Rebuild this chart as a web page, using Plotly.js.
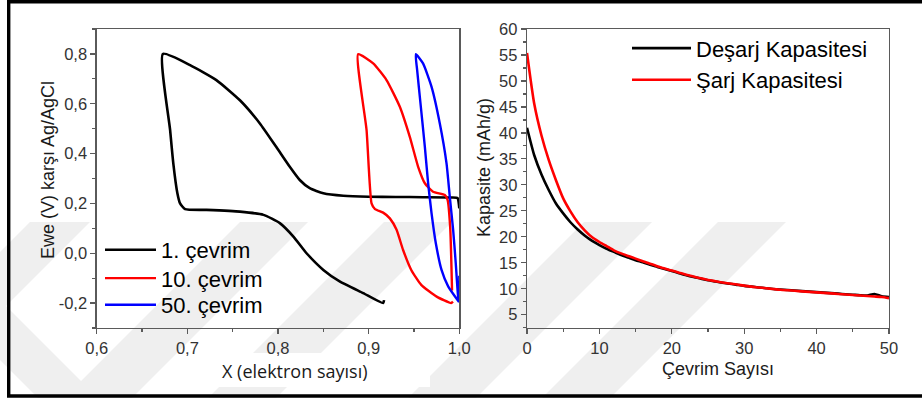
<!DOCTYPE html>
<html>
<head>
<meta charset="utf-8">
<script src="https://cdn.plot.ly/plotly-3.0.1.min.js"></script>
<style>
  html, body { margin: 0; padding: 0; background: #fff; }
  #chart { width: 922px; height: 398px; }
</style>
</head>
<body>
<div id="chart"></div>
<script>
// ---- Left panel: galvanostatic curves, potential vs. electron count ----
const cycleNames = ['1. çevrim', '10. çevrim', '50. çevrim'];

const x1 = [1.000, 0.998, 0.990, 0.960, 0.930, 0.900, 0.872, 0.850, 0.835, 0.824, 0.813, 0.798, 0.780, 0.758, 0.732, 0.703, 0.673,
            0.681, 0.6845, 0.689, 0.692, 0.6975, 0.721, 0.758, 0.784, 0.802, 0.817, 0.8315, 0.850, 0.868, 0.894, 0.916, 0.917];
const y1 = [0.180, 0.222, 0.224, 0.225, 0.226, 0.227, 0.231, 0.241, 0.261, 0.294, 0.347, 0.427, 0.521, 0.614, 0.695, 0.755, 0.800,
            0.494, 0.361, 0.241, 0.200, 0.177, 0.174, 0.167, 0.154, 0.121, 0.067, 0.000, -0.067, -0.113, -0.160, -0.200, -0.188];

const x10 = [0.993, 0.991, 0.975, 0.958, 0.947, 0.938, 0.9308, 0.9234, 0.916, 0.907, 0.9032, 0.8977, 0.8884,
             0.905, 0.9197, 0.9344, 0.9454, 0.9546, 0.962, 0.971, 0.984, 0.987, 0.990, 0.992];
const y10 = [-0.194, -0.200, -0.174, -0.127, -0.067, 0.013, 0.094, 0.140, 0.163, 0.177, 0.200, 0.494, 0.799,
             0.762, 0.695, 0.588, 0.467, 0.347, 0.281, 0.247, 0.234, 0.215, 0.100, -0.150];

const x50 = [0.9995, 0.9877, 0.9804, 0.9741, 0.9694, 0.9656, 0.962, 0.9572, 0.9535, 0.952,
             0.960, 0.9694, 0.9785, 0.9859, 0.9895, 0.9932, 0.9961, 0.9987, 1.000, 1.000];
const y50 = [-0.195, -0.133, -0.067, 0.040, 0.160, 0.281, 0.427, 0.601, 0.735, 0.799,
             0.762, 0.668, 0.521, 0.361, 0.227, 0.094, -0.040, -0.174, -0.195, -0.090];

const xTickVals1 = [0.6, 0.7, 0.8, 0.9, 1.0];
const xTickText1 = ['0,6', '0,7', '0,8', '0,9', '1,0'];
const yTickVals1 = [-0.2, 0.0, 0.2, 0.4, 0.6, 0.8];
const yTickText1 = ['-0,2', '0,0', '0,2', '0,4', '0,6', '0,8'];

// ---- Right panel: capacity retention over 50 cycles ----
const capNames = ['Deşarj Kapasitesi', 'Şarj Kapasitesi'];
const cycles = [0, 1, 2, 3, 4, 5, 6, 7, 8, 9, 10, 11, 12, 13, 14, 15, 16, 17, 18, 19, 20, 21, 22, 23, 24, 25,
                26, 27, 28, 29, 30, 31, 32, 33, 34, 35, 36, 37, 38, 39, 40, 41, 42, 43, 44, 45, 46, 47, 48, 49, 50];
const discharge = [41.0, 35.7, 32.0, 29.0, 26.4, 24.5, 22.8, 21.4, 20.2, 19.2, 18.4, 17.7, 17.1, 16.5, 16.0, 15.5,
                   15.1, 14.6, 14.2, 13.8, 13.4, 13.0, 12.6, 12.25, 11.95, 11.65, 11.4, 11.15, 10.95, 10.75, 10.55, 10.4,
                   10.25, 10.1, 9.95, 9.85, 9.75, 9.65, 9.55, 9.45, 9.35, 9.25, 9.15, 9.05, 8.95, 8.85, 8.75, 8.7,
                   9.0, 8.55, 8.4];
const charge = [55.4, 45.6, 39.5, 34.8, 30.9, 27.4, 24.9, 22.8, 21.2, 19.9, 19.0, 18.2, 17.4, 16.8, 16.3, 15.8,
                15.3, 14.8, 14.35, 13.9, 13.5, 13.1, 12.7, 12.35, 12.0, 11.7, 11.45, 11.2, 11.0, 10.8, 10.6, 10.4,
                10.25, 10.1, 9.95, 9.8, 9.7, 9.6, 9.5, 9.4, 9.3, 9.2, 9.1, 9.0, 8.9, 8.8, 8.7, 8.6, 8.5, 8.4, 8.2];

const FONT = 'Liberation Sans, Arial, Helvetica, sans-serif';
const W = 922, H = 398;
const px = v => v / W;          // pixel -> paper x
const py = v => 1 - v / H;      // pixel -> paper y

const axisBase = {
  showline: true, linecolor: '#5a5a5a', linewidth: 1.3, mirror: true,
  ticks: 'outside', ticklen: 5, tickwidth: 1.2, tickcolor: '#5a5a5a',
  showgrid: false, zeroline: false,
  tickfont: {family: FONT, size: 16.5, color: '#333'}
};
const minorBase = {ticks: 'outside', ticklen: 3, tickcolor: '#5a5a5a', tickmode: 'linear'};

const traces = [
  {x: x1, y: y1, name: cycleNames[0], mode: 'lines', line: {color: '#000000', width: 2.6, shape: 'spline', smoothing: 0.5}, xaxis: 'x', yaxis: 'y', legend: 'legend'},
  {x: x10, y: y10, name: cycleNames[1], mode: 'lines', line: {color: '#ff0000', width: 2.4, shape: 'spline', smoothing: 0.5}, xaxis: 'x', yaxis: 'y', legend: 'legend2'},
  {x: x50, y: y50, name: cycleNames[2], mode: 'lines', line: {color: '#0000ff', width: 2.4, shape: 'spline', smoothing: 0.5}, xaxis: 'x', yaxis: 'y', legend: 'legend3'},
  {x: cycles, y: discharge, name: capNames[0], mode: 'lines', line: {color: '#000000', width: 2.6, shape: 'spline', smoothing: 0.6}, xaxis: 'x2', yaxis: 'y2', legend: 'legend4'},
  {x: cycles, y: charge, name: capNames[1], mode: 'lines', line: {color: '#ff0000', width: 2.6, shape: 'spline', smoothing: 0.6}, xaxis: 'x2', yaxis: 'y2', legend: 'legend5'}
];

// faint diagonal chevron stripes in the background
function poly(pts) {
  return 'M' + pts.map(p => px(p[0]).toFixed(4) + ',' + py(p[1]).toFixed(4)).join('L') + 'Z';
}
const stripeFill = '#efefef';
function stripe(xTop, w) {
  const d = 180;
  return {type: 'path', xref: 'paper', yref: 'paper', layer: 'below', line: {width: 0}, fillcolor: stripeFill,
          path: poly([[xTop, 222], [xTop + w, 222], [xTop + w - d, 222 + d], [xTop - d, 222 + d]])};
}
const shapes = [
  stripe(240, 68), stripe(384, 68), stripe(584, 68), stripe(718, 68), stripe(30, 60),
  {type: 'path', xref: 'paper', yref: 'paper', layer: 'below', line: {width: 0}, fillcolor: stripeFill,
   path: poly([[0, 300], [0, 360], [40, 400], [100, 400]])},
  // white backing behind the left x-axis title
  {type: 'rect', xref: 'paper', yref: 'paper', layer: 'below', line: {width: 0}, fillcolor: '#ffffff',
   x0: px(213), x1: px(430), y0: py(387), y1: py(353)},
  // outer frame
  {type: 'rect', xref: 'paper', yref: 'paper', layer: 'above', line: {color: '#000', width: 3.4},
   x0: px(8.7), x1: px(930), y0: py(396), y1: py(1.8)}
];

// axis titles
const titleFont = {family: FONT, size: 18, color: '#1a1a1a'};
const annotations = [
  {text: 'X (elektron sayısı)', x: px(294.7), y: py(370.5), font: {family: 'Open Sans, ' + FONT, size: 18, color: '#1a1a1a'}},
  {text: 'Ewe (V) karşı Ag/AgCl', x: px(48.5), y: py(170.5), textangle: -90, font: titleFont},
  {text: 'Çevrim Sayısı', x: px(718), y: py(369), font: titleFont},
  {text: 'Kapasite (mAh/g)', x: px(483.5), y: py(167.5), textangle: -90, font: titleFont}
].map(a => Object.assign({xref: 'paper', yref: 'paper', xanchor: 'center', yanchor: 'middle', showarrow: false}, a));

function legendAt(xPix, yPix, size, itemwidth) {
  return {
    x: px(xPix), y: py(yPix), xanchor: 'left', yanchor: 'middle',
    bgcolor: 'rgba(0,0,0,0)', borderwidth: 0, itemwidth: itemwidth,
    font: {family: FONT, size: size, color: '#000'}
  };
}

const layout = {
  width: W, height: H,
  margin: {l: 0, r: 0, t: 0, b: 0},
  paper_bgcolor: '#ffffff', plot_bgcolor: 'rgba(0,0,0,0)',
  font: {family: FONT, color: '#000'},
  showlegend: true,
  xaxis: Object.assign({}, axisBase, {
    domain: [px(96.7), px(459.3)], range: [0.6, 1.0], anchor: 'y',
    tickmode: 'array', tickvals: xTickVals1, ticktext: xTickText1,
    minor: Object.assign({tick0: 0.6, dtick: 0.05}, minorBase)
  }),
  yaxis: Object.assign({}, axisBase, {
    domain: [py(328), py(29)], range: [-0.3, 0.9], anchor: 'x',
    tickmode: 'array', tickvals: yTickVals1, ticktext: yTickText1,
    minor: Object.assign({tick0: -0.3, dtick: 0.1}, minorBase)
  }),
  xaxis2: Object.assign({}, axisBase, {
    domain: [px(527), px(889)], range: [0, 50], anchor: 'y2',
    tickmode: 'linear', tick0: 0, dtick: 10,
    minor: Object.assign({tick0: 0, dtick: 5}, minorBase)
  }),
  yaxis2: Object.assign({}, axisBase, {
    domain: [py(327.7), py(29)], range: [2.5, 60], anchor: 'x2',
    tickmode: 'linear', tick0: 0, dtick: 5,
    minor: Object.assign({tick0: 2.5, dtick: 2.5}, minorBase)
  }),
  legend: legendAt(100, 250, 22, 51),
  legend2: legendAt(100, 278.3, 22, 51),
  legend3: legendAt(100, 305, 22, 51),
  legend4: legendAt(627, 48.3, 22, 59),
  legend5: legendAt(627, 80, 22, 59),
  annotations: annotations,
  shapes: shapes
};

Plotly.newPlot('chart', traces, layout, {displayModeBar: false, staticPlot: true});
</script>
</body>
</html>
